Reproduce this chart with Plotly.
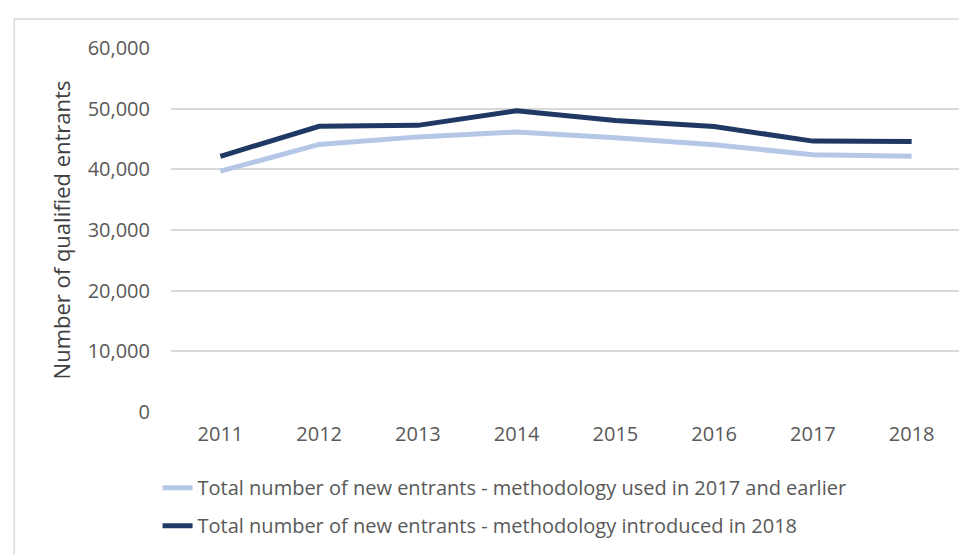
import plotly.graph_objects as go

YEARS = ["2011", "2012", "2013", "2014", "2015", "2016", "2017", "2018"]
OLD_METHOD = [39700, 44100, 45350, 46150, 45200, 44050, 42400, 42150]
NEW_METHOD = [42150, 47100, 47250, 49650, 48050, 47050, 44650, 44600]

OLD_NAME = "Total number of new entrants - methodology used in 2017 and earlier"
NEW_NAME = "Total number of new entrants - methodology introduced in 2018"

LIGHT = "#b4c7e7"
DARK = "#1f3864"
TEXT = "#595959"
FONT = "Open Sans, sans-serif"

fig = go.Figure()
fig.add_trace(go.Scatter(x=YEARS, y=OLD_METHOD, name=OLD_NAME, mode="lines",
                         line={"color": LIGHT, "width": 5}, legendgroup="old"))
fig.add_trace(go.Scatter(x=YEARS, y=NEW_METHOD, name=NEW_NAME, mode="lines",
                         line={"color": DARK, "width": 5}, legendgroup="new"))

fig.update_layout(
    width=967, height=554,
    margin={"l": 163, "r": 14, "t": 40, "b": 150},
    paper_bgcolor="white", plot_bgcolor="white",
    font={"family": FONT, "color": TEXT, "size": 20},
    legend={"font": {"size": 20, "color": TEXT}, "bgcolor": "rgba(0,0,0,0)",
            "x": -0.017, "y": -0.26, "xanchor": "left", "yanchor": "middle",
            "traceorder": "grouped", "tracegroupgap": 9},
    # light grey frame around the whole chart
    shapes=[{"type": "rect", "xref": "paper", "yref": "paper",
             "x0": -0.1985, "x1": 1.02, "y0": -0.45, "y1": 1.0795,
             "line": {"color": "#d9d9d9", "width": 1.5}}],
)
fig.update_xaxes(type="category", range=[-0.5, 7.5], showgrid=False,
                 showline=False, ticks="", ticklabelstandoff=8,
                 tickfont={"size": 20, "color": TEXT})
fig.update_yaxes(range=[0, 60000], dtick=10000, tickformat=",", showline=False,
                 gridcolor="#d9d9d9", gridwidth=1.5, zeroline=False,
                 ticks="", ticklabelstandoff=20,
                 tickfont={"size": 20, "color": TEXT},
                 title={"text": "Number of qualified entrants", "standoff": 10,
                        "font": {"size": 22, "color": "#404040"}})

fig.write_html("out.html")
